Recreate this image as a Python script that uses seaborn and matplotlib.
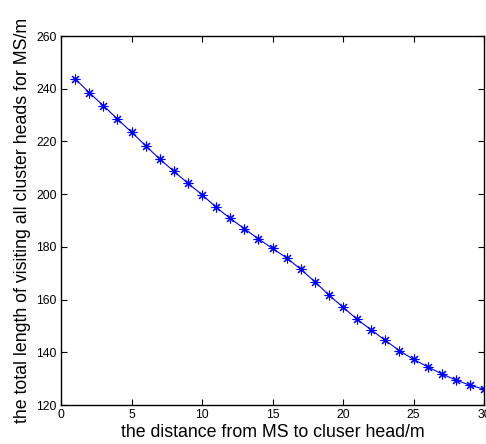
import matplotlib
matplotlib.use("Agg")
import matplotlib.pyplot as plt
import seaborn as sns
import pandas as pd

distance = list(range(1, 31))
total_length = [243.8, 238.5, 233.6, 228.5, 223.5, 218.4, 213.3, 208.7, 204.1, 199.8,
                195.0, 190.8, 186.9, 183.0, 179.4, 175.8, 171.5, 166.8, 161.7, 157.1,
                152.5, 148.5, 144.5, 140.6, 137.3, 134.5, 131.8, 129.5, 127.5, 126.0]
x_ticks = [0, 5, 10, 15, 20, 25, 30]
y_ticks = [120, 140, 160, 180, 200, 220, 240, 260]

sns.set_theme(style="white")
plt.rcParams['font.family'] = ['Liberation Sans', 'DejaVu Sans']
plt.rcParams['text.color'] = 'black'
plt.rcParams['axes.labelcolor'] = 'black'

df = pd.DataFrame({"x": distance, "y": total_length})

fig = plt.figure(figsize=(4.86, 4.44), dpi=100)
ax = fig.add_axes([61/486, 1-405/444, (484-61)/486, (405-36)/444])
sns.lineplot(data=df, x="x", y="y", ax=ax, color="#0000ff", linewidth=0.8,
             marker=(8, 2, 0), markersize=7, markeredgewidth=0.8,
             markeredgecolor="#0000ff", markerfacecolor="#0000ff")
ax.set_xlim(0, 30)
ax.set_ylim(120, 260)
ax.set_xticks(x_ticks)
ax.set_yticks(y_ticks)
ax.tick_params(direction="in", length=4, width=0.8, labelsize=8.8, colors="black",
               top=True, right=True, bottom=True, left=True, pad=3)
for s in ax.spines.values():
    s.set_color("black")
    s.set_linewidth(1.0)
ax.set_xlabel("the distance from MS to cluser head/m", fontsize=12.8, labelpad=2, color="black")
ax.set_ylabel("the total length of visiting all cluster heads for MS/m", fontsize=12.8,
              labelpad=4, color="black")
fig.savefig("out.png", dpi=100)
